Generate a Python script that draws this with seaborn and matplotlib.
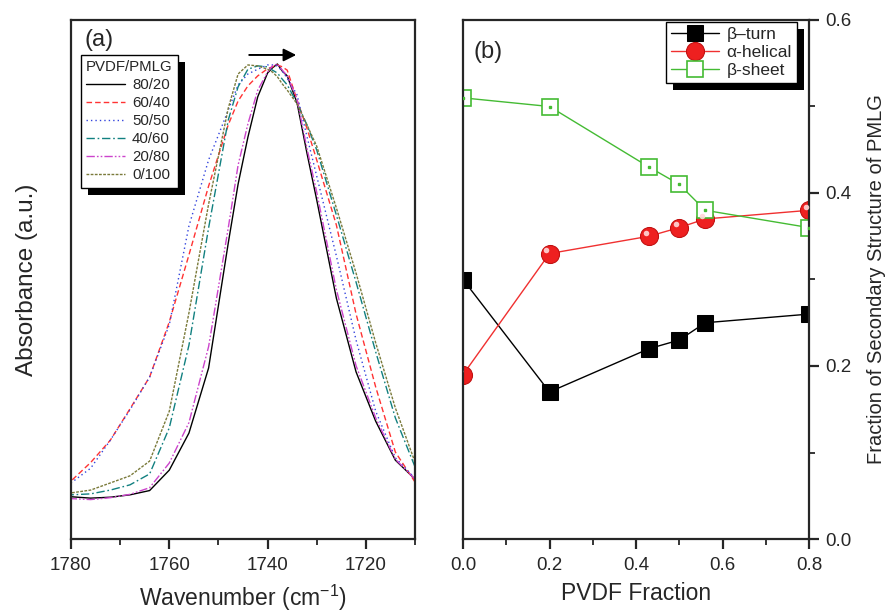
import numpy as np
import pandas as pd
import matplotlib
matplotlib.use("Agg")
import matplotlib.pyplot as plt
from matplotlib.patches import Rectangle
from matplotlib.ticker import MultipleLocator
import matplotlib.transforms as mtransforms
import seaborn as sns

# ---------------- data: panel (a) ----------------
wavenumber = [1780, 1776, 1772, 1768, 1764, 1760, 1756, 1752, 1748, 1746, 1744, 1742, 1740,
              1739, 1738, 1737, 1736, 1734, 1732, 1730, 1726, 1722, 1718, 1714, 1710]
abs_80_20 = [0.089, 0.086, 0.088, 0.093, 0.102, 0.145, 0.223, 0.360, 0.623, 0.747, 0.846, 0.931, 0.981,
             0.992, 1.000, 0.985, 0.975, 0.918, 0.813, 0.714, 0.507, 0.352, 0.248, 0.166, 0.126]
abs_60_40 = [0.122, 0.161, 0.208, 0.274, 0.341, 0.457, 0.598, 0.743, 0.872, 0.922, 0.954, 0.975, 0.990,
             0.994, 0.998, 0.994, 0.987, 0.924, 0.865, 0.798, 0.661, 0.474, 0.320, 0.183, 0.120]
abs_50_50 = [0.118, 0.149, 0.208, 0.272, 0.341, 0.451, 0.659, 0.798, 0.903, 0.956, 0.979, 0.989, 0.998,
             0.998, 0.996, 0.985, 0.970, 0.935, 0.848, 0.764, 0.596, 0.419, 0.269, 0.171, 0.128]
abs_40_60 = [0.093, 0.095, 0.103, 0.114, 0.137, 0.234, 0.408, 0.655, 0.882, 0.952, 0.989, 0.996, 0.994,
             0.987, 0.981, 0.968, 0.956, 0.918, 0.872, 0.819, 0.682, 0.541, 0.394, 0.255, 0.152]
abs_20_80 = [0.085, 0.083, 0.087, 0.094, 0.108, 0.160, 0.245, 0.405, 0.655, 0.787, 0.874, 0.945, 0.983,
             0.996, 1.000, 0.987, 0.975, 0.925, 0.823, 0.730, 0.525, 0.365, 0.255, 0.168, 0.126]
abs_0_100 = [0.097, 0.103, 0.118, 0.133, 0.164, 0.269, 0.476, 0.705, 0.907, 0.979, 0.998, 0.996, 0.989,
             0.983, 0.973, 0.958, 0.945, 0.916, 0.872, 0.827, 0.697, 0.560, 0.413, 0.276, 0.162]
blend_labels = ["80/20", "60/40", "50/50", "40/60", "20/80", "0/100"]
legend_title_a = "PVDF/PMLG"

# ---------------- data: panel (b) ----------------
pvdf_fraction = [0.0, 0.2, 0.43, 0.5, 0.56, 0.8]
beta_turn = [0.30, 0.17, 0.22, 0.23, 0.25, 0.26]
alpha_helical = [0.19, 0.33, 0.35, 0.36, 0.37, 0.38]
beta_sheet = [0.51, 0.50, 0.43, 0.41, 0.38, 0.36]
structure_labels = ["\u03b2\u2013turn", "\u03b1-helical", "\u03b2-sheet"]

# ---------------- style ----------------
sns.set_style("ticks")
plt.rcParams["font.family"] = ["Liberation Sans", "DejaVu Sans"]
plt.rcParams["axes.linewidth"] = 1.6
plt.rcParams["xtick.major.width"] = 1.6
plt.rcParams["ytick.major.width"] = 1.6
plt.rcParams["xtick.minor.width"] = 1.3
plt.rcParams["ytick.minor.width"] = 1.3
plt.rcParams["xtick.direction"] = "out"
plt.rcParams["ytick.direction"] = "out"

fig = plt.figure(figsize=(8.93, 6.12), dpi=100)
axa = fig.add_axes([71/893, 1 - 539/612, (415-71)/893, (539-20)/612])
axb = fig.add_axes([463/893, 1 - 539/612, (809-463)/893, (539-20)/612])

# ---------------- panel (a) ----------------
series_a = [abs_80_20, abs_60_40, abs_50_50, abs_40_60, abs_20_80, abs_0_100]
colors_a = ["#000000", "#ff3333", "#3344dd", "#118080", "#cc44cc", "#7a7a3a"]
dashes_a = [None, (4, 2.2), (1, 2.2), (6, 2, 1.2, 2), (6, 1.5, 1.2, 1.5, 1.2, 1.5), (2, 1)]
for y, lab, c, d in zip(series_a, blend_labels, colors_a, dashes_a):
    sns.lineplot(x=wavenumber, y=y, ax=axa, color=c, lw=1.0, label=lab, legend=False)
    if d is not None:
        axa.lines[-1].set_dashes(d)

axa.set_xlim(1780, 1710)
axa.set_ylim(0, 519/475)
axa.xaxis.set_major_locator(MultipleLocator(20))
axa.xaxis.set_minor_locator(MultipleLocator(10))
axa.set_yticks([])
axa.tick_params(axis="x", which="major", length=7, labelsize=13.5, pad=6)
axa.tick_params(axis="x", which="minor", length=4)
axa.set_xlabel("Wavenumber (cm$^{\\mathregular{-1}}$)", fontsize=16.5, labelpad=6)
axa.set_ylabel("Absorbance (a.u.)", fontsize=17.5, labelpad=24)
for s in axa.spines.values():
    s.set_visible(True)
axa.text(0.04, 0.983, "(a)", transform=axa.transAxes, fontsize=17, va="top", ha="left")
axa.annotate("", xy=(1733.6, 1.019), xytext=(1744.3, 1.019),
             arrowprops=dict(arrowstyle="-|>", color="black", lw=1.4, mutation_scale=19))

h, l = axa.get_legend_handles_labels()
lega = axa.legend(h, l, title=legend_title_a, loc="upper left", bbox_to_anchor=(0.029, 0.933),
                  borderaxespad=0, fontsize=10.8, title_fontsize=10.8, frameon=True,
                  fancybox=False, framealpha=1, edgecolor="black", handlelength=2.6,
                  handletextpad=0.45, labelspacing=0.27, borderpad=0.35, alignment="left")
lega.get_frame().set_linewidth(1.0)

# ---------------- panel (b) ----------------
sns.lineplot(x=pvdf_fraction, y=beta_turn, ax=axb, color="black", lw=1.0, marker="s",
             markersize=12, markeredgecolor="black", label=structure_labels[0], legend=False)
sns.lineplot(x=pvdf_fraction, y=alpha_helical, ax=axb, color="#f03030", lw=1.0, marker="o",
             markersize=13, markerfacecolor="#ee2020", markeredgecolor="#c01010",
             label=structure_labels[1], legend=False)
hl_off = mtransforms.ScaledTranslation(-2.4/72, 2.4/72, fig.dpi_scale_trans)
axb.plot(pvdf_fraction, alpha_helical, ls="none", marker="o", markersize=4,
         markerfacecolor="#ffd8d8", markeredgecolor="none", alpha=0.9,
         transform=axb.transData + hl_off, zorder=3)
sns.lineplot(x=pvdf_fraction, y=beta_sheet, ax=axb, color="#44bb33", lw=1.0, marker="s",
             markersize=12, markerfacecolor="white", markeredgecolor="#44bb33",
             markeredgewidth=1.2, label=structure_labels[2], legend=False)
axb.plot(pvdf_fraction, beta_sheet, ls="none", marker="s", markersize=1.5,
         color="#44bb33", zorder=3)

axb.set_xlim(0, 0.8)
axb.set_ylim(0, 0.6)
axb.xaxis.set_major_locator(MultipleLocator(0.2))
axb.xaxis.set_minor_locator(MultipleLocator(0.1))
axb.yaxis.set_major_locator(MultipleLocator(0.2))
axb.yaxis.set_minor_locator(MultipleLocator(0.1))
axb.xaxis.set_major_formatter(plt.FormatStrFormatter("%.1f"))
axb.yaxis.set_major_formatter(plt.FormatStrFormatter("%.1f"))
axb.yaxis.tick_right()
axb.yaxis.set_label_position("right")
axb.tick_params(axis="both", which="major", length=7, labelsize=13.5, pad=6)
axb.tick_params(axis="y", which="major", pad=5)
axb.tick_params(axis="both", which="minor", length=4)
axb.set_xlabel("PVDF Fraction", fontsize=16.5, labelpad=6)
axb.set_ylabel("Fraction of Secondary Structure of PMLG", fontsize=14.5, labelpad=11)
for s in axb.spines.values():
    s.set_visible(True)
axb.text(0.03, 0.96, "(b)", transform=axb.transAxes, fontsize=17, va="top", ha="left")

hb = axb.get_lines()
hb = [hb[0], hb[1], hb[3]]
legb = axb.legend(hb, structure_labels, loc="upper right", bbox_to_anchor=(0.965, 0.996),
                  borderaxespad=0, fontsize=12.5, frameon=True, fancybox=False, framealpha=1,
                  edgecolor="black", handlelength=2.8, handletextpad=0.4, labelspacing=0.15,
                  borderpad=0.3)
legb.get_frame().set_linewidth(1.0)

# ---------------- black drop shadows behind legends ----------------
fig.canvas.draw()
inv = fig.transFigure.inverted()
for ax, leg in [(axa, lega), (axb, legb)]:
    bb = leg.get_window_extent()
    dx, dy = 7, 7
    (x0, y0), (x1, y1) = inv.transform([(bb.x0 + dx, bb.y0 - dy), (bb.x1 + dx, bb.y1 - dy)])
    ax.add_patch(Rectangle((x0, y0), x1 - x0, y1 - y0, transform=fig.transFigure,
                           facecolor="black", edgecolor="none", zorder=4.5, clip_on=False))

fig.savefig("out.png", dpi=100)
